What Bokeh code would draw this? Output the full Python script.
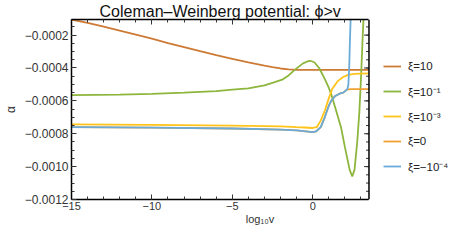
from bokeh.plotting import figure
from bokeh.models import (LinearAxis, FixedTicker, Legend, LegendItem, Range1d, Span)
from bokeh.embed import file_html
from bokeh.resources import INLINE

# ---- data ----
x_xi10 = [-15, -14, -13, -12, -11, -10, -9, -8, -7, -6, -5, -4, -3, -2.5, -2, -1.5, -1, 0, 1, 2, 3.5]
y_xi10 = [-0.000105, -0.000125, -0.000148, -0.000172, -0.000197, -0.000222, -0.000248, -0.000273,
          -0.000298, -0.000322, -0.000344, -0.000366, -0.000386, -0.000395, -0.000403, -0.000408,
          -0.000411, -0.000412, -0.000412, -0.000412, -0.000412]

x_xi1m = [-15, -12, -10, -8, -6, -5, -4, -3, -2.5, -1.9, -1.5, -1.1, -0.6, -0.3, -0.15, 0.1, 0.4, 0.74,
          1.0, 1.15, 1.4, 1.76, 2.0, 2.15, 2.3, 2.46, 2.6, 2.77, 2.9, 3.0, 3.1, 3.16]
y_xi1m = [-0.000565, -0.000562, -0.000558, -0.00055, -0.000541, -0.000532, -0.000524, -0.000506,
          -0.00049, -0.000471, -0.000445, -0.00041, -0.000372, -0.000359, -0.000356, -0.000365,
          -0.0004, -0.000465, -0.00052, -0.000559, -0.00064, -0.00076, -0.00088, -0.00095,
          -0.00102, -0.00106, -0.00102, -0.00085, -0.00067, -0.00047, -0.00023, -0.0001]

x_xi3m = [-15, -10, -5, -2, -1, -0.5, 0, 0.25, 0.5, 0.75, 0.95, 1.2, 1.55, 1.9, 2.2, 2.6, 3.0, 3.5]
y_xi3m = [-0.000743, -0.000746, -0.00075, -0.000755, -0.00076, -0.000762, -0.000765, -0.00076,
          -0.00072, -0.00066, -0.0006, -0.00053, -0.00048, -0.000455, -0.000442, -0.000436,
          -0.000434, -0.000433]

x_xi0 = [-15, -10, -5, -2, -1, 0, 0.22, 0.5, 0.75, 1.0, 1.15, 1.4, 1.7, 1.9, 2.15, 2.5, 3.0, 3.5]
y_xi0 = [-0.00076, -0.000763, -0.000768, -0.000775, -0.00078, -0.00079, -0.000785, -0.00076,
         -0.0007, -0.00063, -0.0006, -0.00057, -0.000555, -0.00055, -0.00053, -0.000528,
         -0.000528, -0.000528]

x_xi4n = [-15, -10, -5, -2, -1, 0, 0.22, 0.5, 0.75, 1.0, 1.15, 1.4, 1.7, 1.9, 2.15, 2.22, 2.27, 2.31, 2.36]
y_xi4n = [-0.00076, -0.000763, -0.000768, -0.000775, -0.00078, -0.00079, -0.000785, -0.00076,
          -0.0007, -0.00063, -0.0006, -0.00057, -0.000555, -0.00055, -0.00053, -0.0005,
          -0.0004, -0.00025, -0.0001]

labels = ["ξ=10", "ξ=10⁻¹", "ξ=10⁻³", "ξ=0", "ξ=−10⁻⁴"]
colors = ["#CD7A35", "#8DB63C", "#FFC319", "#F0A030", "#6AAAD9"]

x_min, x_max = -15, 3.5
y_min, y_max = -0.0012, -0.000105
x_ticks = [-15, -10, -5, 0]
x_tick_labels = ["−15", "−10", "−5", "0"]
x_minor = list(range(-15, 4))
y_ticks = [-0.0012, -0.0010, -0.0008, -0.0006, -0.0004, -0.0002]
y_tick_labels = ["−0.0012", "−0.0010", "−0.0008", "−0.0006", "−0.0004", "−0.0002"]
y_minor = [-0.0012 + 0.00005 * i for i in range(0, 23)]

FONT = "Liberation Sans"

# layout (pixels): plotting box 303 px wide, legend strip of 81 px to its right
BOX_W, STRIP_W = 303, 81
px_per_unit = BOX_W / (x_max - x_min)
x_end = x_max + STRIP_W / px_per_unit

p = figure(width=448, height=231, output_backend="svg", toolbar_location=None,
           x_range=Range1d(x_min, x_end), y_range=Range1d(y_min, y_max),
           min_border_left=64, min_border_right=0, min_border_top=13, min_border_bottom=32)
p.title.text = "Coleman–Weinberg potential: ϕ>v"
p.title.align = "left"
p.title.offset = 28
p.title.text_font = FONT
p.title.text_font_size = "16px"
p.title.text_font_style = "normal"
p.title.text_color = "#111111"
p.title.standoff = 0

p.grid.visible = False
p.outline_line_color = None

series = [(x_xi10, y_xi10), (x_xi1m, y_xi1m), (x_xi3m, y_xi3m), (x_xi0, y_xi0), (x_xi4n, y_xi4n)]
renderers = []
for (xs, ys), c in zip(series, colors):
    r = p.line(xs, ys, line_color=c, line_width=1.8)
    renderers.append(r)

# right edge of the box, with inward ticks
p.add_layout(Span(location=x_max, dimension="height", line_color="black", line_width=1.5))
maj_len = 5 / px_per_unit
min_len = 3 / px_per_unit
p.segment(x0=[x_max] * len(y_ticks), y0=y_ticks, x1=[x_max - maj_len] * len(y_ticks), y1=y_ticks,
          line_color="#333333", line_width=1)
p.segment(x0=[x_max] * len(y_minor), y0=y_minor, x1=[x_max - min_len] * len(y_minor), y1=y_minor,
          line_color="#333333", line_width=1)

def style(ax, size="12px"):
    ax.axis_line_color = "black"
    ax.axis_line_width = 1.5
    ax.major_tick_in = 5
    ax.major_tick_out = 0
    ax.minor_tick_in = 3
    ax.minor_tick_out = 0
    ax.major_tick_line_color = "#333333"
    ax.minor_tick_line_color = "#333333"
    ax.major_label_text_font = FONT
    ax.major_label_text_font_size = size
    ax.major_label_text_color = "#333333"
    ax.axis_label_text_font = FONT
    ax.axis_label_text_font_size = size
    ax.axis_label_text_font_style = "normal"
    ax.axis_label_text_color = "#333333"

xa = p.xaxis[0]
xa.ticker = FixedTicker(ticks=x_ticks, minor_ticks=x_minor)
xa.bounds = (x_min, x_max)
xa.major_label_overrides = {t: l for t, l in zip(x_ticks, x_tick_labels)}
xa.axis_label = "log₁₀v"
xa.axis_label_standoff = 0
xa.major_label_standoff = 2
style(xa, "11px")

ya = p.yaxis[0]
ya.ticker = FixedTicker(ticks=y_ticks, minor_ticks=y_minor)
ya.major_label_overrides = {t: l for t, l in zip(y_ticks, y_tick_labels)}
ya.axis_label = "α"
ya.axis_label_standoff = 4
ya.major_label_standoff = 3
style(ya, "12px")

top = LinearAxis(ticker=FixedTicker(ticks=x_ticks, minor_ticks=x_minor), bounds=(x_min, x_max))
style(top)
top.major_label_overrides = {t: "" for t in x_ticks}
top.major_label_standoff = 0
p.add_layout(top, "above")

legend = Legend(items=[LegendItem(label=l, renderers=[r]) for l, r in zip(labels, renderers)],
                location=(BOX_W + 9, 23), orientation="vertical")
legend.label_text_font = FONT
legend.label_text_font_size = "11.5px"
legend.label_text_color = "#222222"
legend.glyph_width = 18
legend.glyph_height = 20
legend.label_height = 20
legend.spacing = 5
legend.label_standoff = 7
legend.padding = 0
legend.margin = 0
legend.border_line_alpha = 0
legend.background_fill_alpha = 0
p.add_layout(legend, "center")

open("out.html", "w").write(file_html(p, INLINE))
